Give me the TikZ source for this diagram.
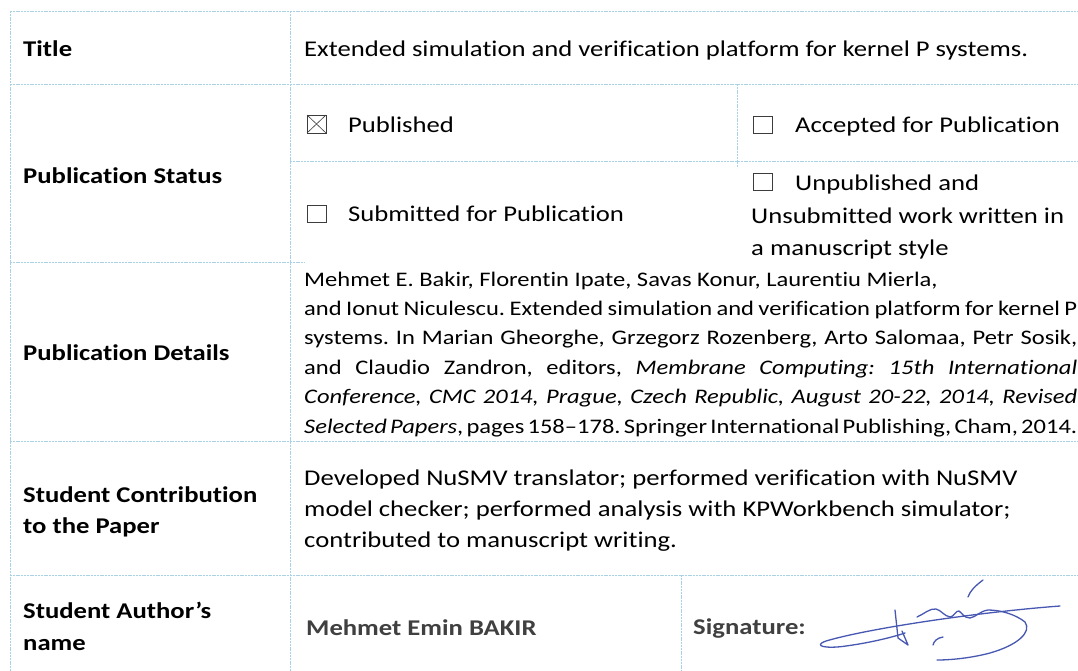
\documentclass[tikz,border=0pt]{standalone}
\usepackage{fontspec}
\setmainfont{Carlito}[FakeStretch=1.185, Ligatures=CommonOff]
\definecolor{gridblue}{RGB}{170,210,230}
\definecolor{inkblue}{RGB}{72,88,178}
\definecolor{namegray}{RGB}{64,64,64}
\definecolor{boxgray}{RGB}{60,60,60}
\newlength{\detw}
\setlength{\detw}{773pt}
% a line of the justified reference block, spread or squeezed to the cell width
\newcommand{\justline}[1]{{\spaceskip=0.226em plus 1em minus 0.08em\makebox[\detw][s]{#1}}}
\frenchspacing
\begin{document}
\begin{tikzpicture}[x=1pt,y=-1pt,
  every node/.style={inner sep=0pt, anchor=base west, font=\fontsize{22.5}{27}\selectfont},
  lbl/.style={font=\fontsize{22.5}{27}\selectfont\bfseries},
  det/.style={font=\fontsize{20.7}{25}\selectfont},
  gridline/.style={draw=gridblue, line width=0.8pt, dash pattern=on 2pt off 0.8pt},
  tickbox/.style={draw=boxgray, line width=0.9pt},
  ink/.style={draw=inkblue, line width=1.3pt, line cap=round, line join=round}]

\useasboundingbox[fill=white] (0,0) rectangle (1078,671);

% table rules
\draw[gridline] (10,11) -- (1078,11);
\draw[gridline] (10,84) -- (1078,84);
\draw[gridline] (290,161) -- (1078,161);
\draw[gridline] (10,262) -- (305,262);
\draw[gridline] (10,441) -- (1078,441);
\draw[gridline] (10,575) -- (1078,575);
\draw[gridline] (10,11) -- (10,671);
\draw[gridline] (290,11) -- (290,671);
\draw[gridline] (737,84) -- (737,168);
\draw[gridline] (681,575) -- (681,671);

% row labels
\node[lbl] (lTitle) at (23,57) {Title};
\node[lbl] (lStatus) at (23,183) {Publication Status};
\node[lbl] (lDetails) at (23,360) {Publication Details};
\node[lbl] (lContribA) at (23,502) {Student Contribution};
\node[lbl] (lContribB) at (23,533) {to the Paper};
\node[lbl] (lAuthorA) at (23,618) {Student Author’s};
\node[lbl] (lAuthorB) at (23,650) {name};

% title
\node (title) at (304,57) {Extended simulation and verification platform for kernel P systems.};

% status check boxes
\draw[tickbox] (307,115) rectangle (326,133);
\draw[draw=boxgray, line width=0.6pt] (307,115) -- (326,133) (326,115) -- (307,133);
\node (sPub) at (348,133) {Published};
\draw[tickbox] (753,116) rectangle (772,133);
\node (sAcc) at (795,133) {Accepted for Publication};
\draw[tickbox] (307,205) rectangle (326,222);
\node (sSub) at (348,222) {Submitted for Publication};
\draw[tickbox] (753,173) rectangle (772,190);
\node (sUnA) at (795,190) {Unpublished and};
\node (sUnB) at (751,223) {Unsubmitted work written in};
\node (sUnC) at (751,255) {a manuscript style};

% publication details
\node[det] (d1) at (304,286) {Mehmet E. Bakir, Florentin Ipate, Savas Konur, Laurentiu Mierla,};
\node[det] (d2) at (304,315.4) {\justline{and Ionut Niculescu. Extended simulation and verification platform for kernel P}};
\node[det] (d3) at (304,344.8) {\justline{systems. In Marian Gheorghe, Grzegorz Rozenberg, Arto Salomaa, Petr Sosik,}};
\node[det] (d4) at (304,374.2) {\justline{and Claudio Zandron, editors, \textit{Membrane Computing: 15th International}}};
\node[det] (d5) at (304,403.6) {\justline{\textit{Conference, CMC 2014, Prague, Czech Republic, August 20-22, 2014, Revised}}};
\node[det] (d6) at (304,433) {\justline{\textit{Selected Papers}, pages 158–178. Springer International Publishing, Cham, 2014.}};

% contribution
\node (c1) at (304,485) {Developed NuSMV translator; performed verification with NuSMV};
\node (c2) at (304,516) {model checker; performed analysis with KPWorkbench simulator;};
\node (c3) at (304,547) {contributed to manuscript writing.};

% author and signature
\node[lbl, text=namegray] (aName) at (306,635) {Mehmet Emin BAKIR};
\node[lbl, text=namegray] (aSig) at (693,634) {Signature:};

% handwritten signature
\draw[ink] (1060,606) .. controls (980,612) and (870,628) .. (826,641)
  .. controls (812,646) and (826,649) .. (846,646)
  .. controls (868,643) and (890,638) .. (905,633);
\draw[ink] (895,610) -- (898,638) -- (908,645) -- (902,631);
\draw[ink] (917,617) .. controls (924,614) and (930,608) .. (936,609)
  .. controls (941,610) and (944,616) .. (950,617)
  .. controls (954,617) and (956,610) .. (959,611)
  .. controls (962,613) and (964,618) .. (970,618)
  .. controls (976,617) and (980,611) .. (988,610)
  .. controls (1000,610) and (1015,614) .. (1025,622)
  .. controls (1032,632) and (1018,645) .. (990,653)
  .. controls (975,657) and (955,660) .. (937,660);
\draw[ink] (983,580) .. controls (975,586) and (970,591) .. (968,597);
\draw[ink] (933,645) .. controls (934,641) and (937,638) .. (943,637);
\end{tikzpicture}
\end{document}
